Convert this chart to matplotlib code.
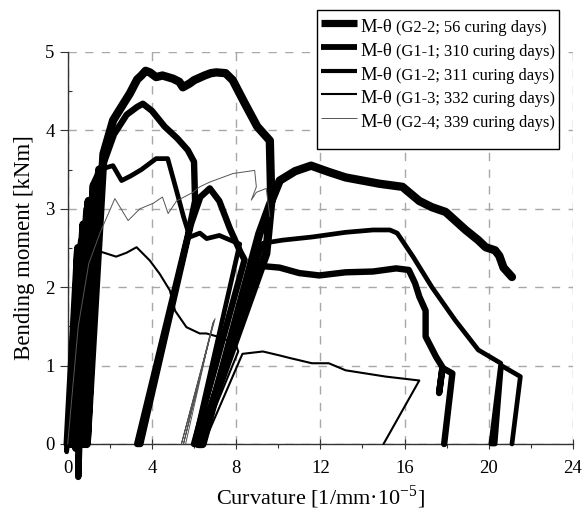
import numpy as np
import matplotlib
matplotlib.use("Agg")
import matplotlib.pyplot as plt
from matplotlib.lines import Line2D
from matplotlib.offsetbox import AnchoredOffsetbox, VPacker, HPacker, TextArea, DrawingArea
from matplotlib.ticker import MultipleLocator

plt.rcParams['font.family'] = ['Liberation Serif', 'DejaVu Serif']
plt.rcParams['mathtext.fontset'] = 'stix'

nan = np.nan

# ---- data (curvature [1/mm*1e-5], bending moment [kNm]) ----
g22_x = [0.0, 0.5, 0.2, 0.75, 0.4, 1.0, 0.6, 1.25, 0.75, 1.5, 0.9, 1.7, 2.16, 2.6, 2.95, 3.3, 3.5, 3.7,
         3.9, 4.2, 4.5, 5.0, 5.3, 5.47, 5.8, 6.0, 6.5, 6.8, 7.06, 7.5, 7.84, 8.4, 9.0, 9.6, 9.67, 9.43,
         6.2, 6.4, 9.1, 9.6, 10.07, 10.8, 11.56, 12.4, 13.2, 14.0, 14.8, 15.9, 16.7, 17.3, 17.95, 18.9,
         19.5, 19.85, 20.3, 20.5, 20.7, 21.1]
g22_y = [0.0, 2.5, 0.0, 2.8, -0.05, 3.1, 0.0, 3.3, 0.0, 3.5, 0.0, 3.7, 4.13, 4.32, 4.47, 4.65, 4.70,
         4.76, 4.74, 4.68, 4.70, 4.66, 4.62, 4.55, 4.60, 4.64, 4.70, 4.73, 4.74, 4.73, 4.64, 4.35, 4.05,
         3.87, 3.10, 2.43, 0.0, 0.0, 2.68, 3.05, 3.36, 3.48, 3.55, 3.47, 3.40, 3.36, 3.32, 3.28, 3.10,
         3.02, 2.96, 2.73, 2.60, 2.51, 2.47, 2.40, 2.25, 2.13]

g11_x = [0.1, 0.6, 0.5, 0.9, 0.3, 0.95, 0.7, 1.35, 0.85, 1.6, 2.2, 2.8, 3.3, 3.57, 4.0, 4.6, 5.2, 5.7,
         6.0, 6.05, 5.7, 3.3, 3.45, 5.85, 6.3, 6.75, 7.2, 7.7, 8.2, 8.4, 6.0, 6.3, 8.8, 9.2, 10.06, 11.0,
         11.95, 13.2, 14.5, 15.6, 16.2, 16.5, 16.7, 17.0, 17.0, 17.5, 17.8, 17.64, 17.8, 18.27, 17.88]
g11_y = [0.0, 2.4, -0.42, 2.7, 0.0, 3.0, 0.0, 3.2, 0.0, 3.5, 3.95, 4.2, 4.3, 4.34, 4.25, 4.05, 3.90,
         3.75, 3.60, 3.10, 2.65, 0.0, 0.0, 2.80, 3.15, 3.26, 3.10, 2.75, 2.45, 2.35, 0.0, 0.0, 2.30,
         2.27, 2.25, 2.18, 2.15, 2.19, 2.20, 2.24, 2.22, 2.05, 1.88, 1.70, 1.37, 1.11, 0.98, 0.65, 0.97,
         0.90, 0.0]

g12_x = [0.0, 0.4, -0.05, 0.6, 0.15, 0.85, 0.5, 1.15, 1.5, 2.15, 2.56, 3.0, 3.5, 4.2, 4.75, 5.17, 5.5,
         5.8, 6.28, 6.6, 7.2, 8.17, 6.0, 6.2, 9.27, 10.2, 11.6, 13.2, 14.5, 15.3, 15.65, 16.4, 17.3,
         18.4, 19.5, 20.57, 20.1, 20.3, 20.6, 21.5, 21.1]
g12_y = [0.0, 2.2, -0.1, 2.6, 0.0, 3.0, 0.0, 3.3, 3.5, 3.55, 3.36, 3.42, 3.50, 3.64, 3.64, 3.23, 2.90,
         2.64, 2.69, 2.62, 2.66, 2.55, 0.0, 0.0, 2.56, 2.60, 2.64, 2.70, 2.73, 2.73, 2.69, 2.39, 2.00,
         1.58, 1.20, 1.03, 0.0, 0.0, 1.00, 0.86, 0.0]

g13_x = [0.1, 0.6, 0.2, 0.9, 1.2, 1.6, 2.3, 2.8, 3.27, 3.9, 4.37, 4.85, 5.1, 5.64, 6.27, 6.59, 7.38, 8.0,
         8.1, 6.3, 6.45, 8.3, 9.27, 10.06, 10.5, 11.6, 12.4, 13.2, 15.1, 16.7, 15.0]
g13_y = [0.0, 1.6, 0.0, 2.2, 2.45, 2.45, 2.39, 2.44, 2.51, 2.34, 2.17, 1.96, 1.70, 1.49, 1.41, 1.41, 1.35,
         1.26, 1.18, 0.0, 0.0, 1.15, 1.18, 1.13, 1.10, 1.03, 1.03, 0.94, 0.86, 0.81, 0.0]

g24_x = [0.0, 0.5, 1.0, 1.53, 2.24, 2.87, 3.43, 4.06, 4.5, 4.77, 5.17, 5.95, 6.27, 6.74, 7.85, 8.88, 8.96,
         8.72, 8.96, 9.43, 9.6, nan, 7.0, 5.4, 6.95, 5.5, 6.9, 5.6]
g24_y = [0.0, 1.5, 2.3, 2.69, 3.13, 2.85, 3.00, 3.07, 3.15, 2.94, 3.10, 3.21, 3.28, 3.34, 3.45, 3.49, 3.28,
         3.11, 3.21, 3.26, 2.9, nan, 1.60, 0.0, 1.58, 0.0, 1.55, 0.0]

labels_main = ["M-θ"] * 5
labels_sub = ["(G2-2; 56 curing days)", "(G1-1; 310 curing days)", "(G1-2; 311 curing days)",
              "(G1-3; 332 curing days)", "(G2-4; 339 curing days)"]

series = [(g22_x, g22_y, 6.0, 'black'), (g11_x, g11_y, 4.6, 'black'), (g12_x, g12_y, 3.4, 'black'),
          (g13_x, g13_y, 1.5, 'black'), (g24_x, g24_y, 0.7, '#555555')]
legend_lw = [5.2, 4.2, 3.0, 1.5, 0.7]

fig = plt.figure(figsize=(5.87, 5.15), dpi=100)
ax = fig.add_axes([67.7/587, 1-444/515, (573-67.7)/587, (444-52)/515])

for x, y, lw, c in series:
    ax.plot(x, y, color=c, lw=lw, solid_joinstyle='round', solid_capstyle='round', clip_on=False, zorder=3)

ax.set_xlim(0, 24)
ax.set_ylim(0, 5)
ax.xaxis.set_major_locator(MultipleLocator(4))
ax.xaxis.set_minor_locator(MultipleLocator(2))
ax.yaxis.set_major_locator(MultipleLocator(1))
ax.yaxis.set_minor_locator(MultipleLocator(0.5))
ax.grid(True, which='major', color='#a8a8a8', linestyle=(0, (6, 6)), linewidth=1.0)
ax.set_axisbelow(True)
for s in ['top', 'right']:
    ax.spines[s].set_visible(False)
for s in ['left', 'bottom']:
    ax.spines[s].set_color('#333333')
    ax.spines[s].set_linewidth(1.0)
ax.tick_params(axis='x', which='major', direction='inout', length=7, width=0.8, pad=8, labelsize=13.5, color='#333333')
ax.tick_params(axis='x', which='minor', direction='out', length=3, width=0.8, color='#333333')
ax.tick_params(axis='y', which='major', direction='out', length=5.5, width=0.8, pad=4, labelsize=13.5, color='#333333')
ax.tick_params(axis='y', which='minor', direction='in', length=3, width=0.8, color='#333333')

ax.set_xlabel("Curvature [1/mm·10$^{\\mathregular{-5}}$]", fontsize=16, labelpad=5)
ax.set_ylabel("Bending moment [kNm]", fontsize=16.5, labelpad=7)

# legend
rows = []
for (x, y, lw, c), llw, m, sub in zip(series, legend_lw, labels_main, labels_sub):
    da = DrawingArea(26, 13, 0, 0)
    da.add_artist(Line2D([0, 26], [6.5, 6.5], lw=llw, color=c, solid_capstyle='butt'))
    t1 = TextArea(m, textprops=dict(fontsize=13.4))
    t2 = TextArea(sub, textprops=dict(fontsize=11.9))
    rows.append(HPacker(children=[da, t1, t2], align='baseline', pad=0, sep=2.5))
rows.append(DrawingArea(10, 9, 0, 0))
box = VPacker(children=rows, align='left', pad=0, sep=1.2)
anch = AnchoredOffsetbox(loc='upper left', child=box, pad=0.3, frameon=True,
                         bbox_to_anchor=(317/587, 1-10/515), bbox_transform=fig.transFigure, borderpad=0)
anch.patch.set_boxstyle('square', pad=0)
anch.patch.set_edgecolor('black')
anch.patch.set_linewidth(1.0)
anch.set_zorder(10)
fig.add_artist(anch)

fig.savefig("out.png", dpi=100)
